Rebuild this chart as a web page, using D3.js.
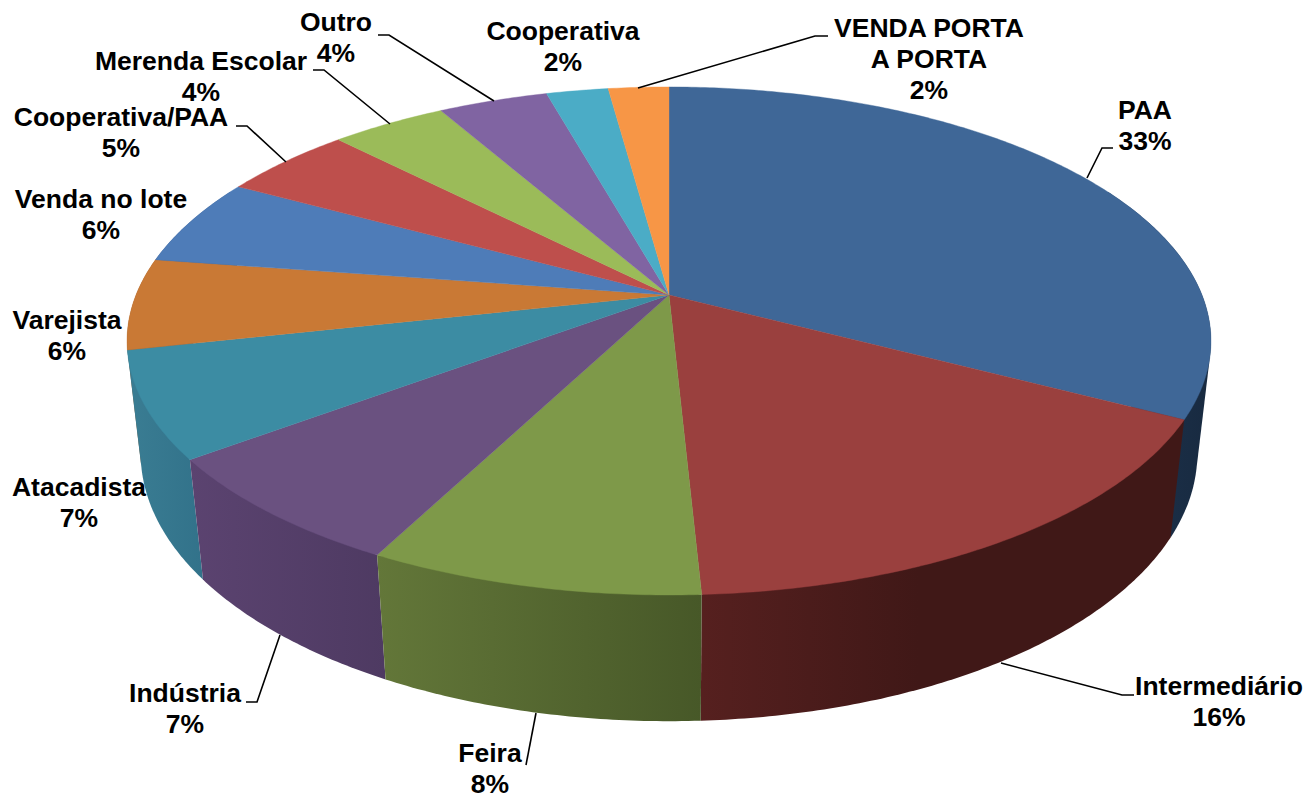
<!DOCTYPE html>
<html><head><meta charset="utf-8">
<script src="https://cdn.jsdelivr.net/npm/d3@7"></script>
<style>html,body{margin:0;padding:0;background:#fff}svg{display:block}
text{font-family:"Liberation Sans",Arial,sans-serif;font-weight:bold;font-size:26.5px;fill:#000;text-anchor:middle}</style>
</head><body><svg id="c" width="1308" height="799"></svg>
<script>
const categories = ["PAA","Intermediário","Feira","Indústria","Atacadista","Varejista","Venda no lote","Cooperativa/PAA","Merenda Escolar","Outro","Cooperativa","VENDA PORTA A PORTA"];
const values = [32.7,16.5,8.4,7.2,6.75,5.8,5.6,4.7,4.1,3.9,2.2,2.15];
const percentLabels = ["33%","16%","8%","7%","7%","6%","6%","5%","4%","4%","2%","2%"];
const labelLines = [["PAA"],["Intermediário"],["Feira"],["Indústria"],["Atacadista"],["Varejista"],["Venda no lote"],["Cooperativa/PAA"],["Merenda Escolar"],["Outro"],["Cooperativa"],["VENDA PORTA","A PORTA"]];
const topColors = ["#3F6797","#9A403E","#7E9949","#6A5180","#3C8CA3","#C97935","#4E7CB8","#BE4F4C","#9BBB59","#8064A2","#4BACC6","#F79646"];
const wallStart = ["#1E3450","#56201F","#637739","#5B4370","#3A7D93","#8a5526","#345680","#843533","#6b8239","#59466f","#337a8c","#b06a30"];
const wallEnd   = ["#182A40","#401817","#475828","#4E3A62","#32728A","#8a5526","#345680","#843533","#6b8239","#59466f","#337a8c","#b06a30"];
const wallEndOffset = [1,0.45,1,1,1,1,1,1,1,1,1,1];
const labelX = [1145,1219,490,185,79,67,101,121,201,336,563,929];
const labelY = [119,695,762,702,496,329,208,126,70,31,40,37];
const lineStep = 31;
const leaders = [
 [[1087,178],[1102,148],[1113,148]],
 [[1001,663],[1122,695],[1134,695]],
 [[536,713],[526,765]],
 [[280,635],[257,702],[246,702]],
 null,null,null,
 [[286,162],[247,126],[236,126]],
 [[390,124],[324,70],[313,70]],
 [[494,101],[389,35],[378,35]],
 null,
 [[638,88],[815,36],[828,36]]
];

const cx=669, cy=295, A=533, B=245.7, K=0.181, M=0.025, C=114;
function project(angle,r,h){
  const u=r*Math.sin(angle), v=-r*Math.cos(angle);
  const w=1-K*v+M*h;
  return [cx+A*u/w, cy+(B*v+C*h)/w];
}
const svg=d3.select("#c");
const defs=svg.append("defs");
const pie=d3.pie().sort(null).value(d=>d);
const arcs=pie(values);
const line=d3.line();
const sample=(a,b)=>{const n=Math.max(2,Math.ceil(Math.abs(b-a)/0.01));return d3.range(n+1).map(i=>a+(b-a)*i/n);};

// walls, drawn far to near; the convex hull gives the outline between top and bottom rims
const LO=1.1, HI=2*Math.PI-1.1;
const wallOrder=arcs.map((d,i)=>i).filter(i=>arcs[i].endAngle>LO&&arcs[i].startAngle<HI)
  .sort((p,q)=>Math.abs(Math.PI-(arcs[q].startAngle+arcs[q].endAngle)/2)-Math.abs(Math.PI-(arcs[p].startAngle+arcs[p].endAngle)/2));
const walls=svg.append("g");
wallOrder.forEach(i=>{
  const a=Math.max(arcs[i].startAngle,LO), b=Math.min(arcs[i].endAngle,HI);
  const ang=sample(a,b);
  const pts=ang.map(t=>project(t,1,0)).concat(ang.map(t=>project(t,1,1)));
  const hull=d3.polygonHull(pts);
  const xs=pts.map(p=>p[0]);
  const g=defs.append("linearGradient").attr("id","w"+i).attr("gradientUnits","userSpaceOnUse")
    .attr("x1",d3.min(xs)).attr("x2",d3.max(xs)).attr("y1",0).attr("y2",0);
  g.append("stop").attr("offset",0).attr("stop-color",wallStart[i]);
  g.append("stop").attr("offset",wallEndOffset[i]).attr("stop-color",wallEnd[i]);
  walls.append("path").attr("d",line(hull)+"Z").attr("fill",`url(#w${i})`);
});
// top faces
svg.append("g").selectAll("path").data(arcs).join("path")
  .attr("d",d=>line([[cx,cy]].concat(sample(d.startAngle,d.endAngle).map(t=>project(t,1,0))))+"Z")
  .attr("fill",(d,i)=>topColors[i]).attr("stroke",(d,i)=>topColors[i]).attr("stroke-width",0.4);
// leaders
svg.append("g").selectAll("path").data(leaders.filter(Boolean)).join("path")
  .attr("d",d=>line(d)).attr("fill","none").attr("stroke","#000").attr("stroke-width",1.6);
// labels
const lg=svg.append("g");
categories.forEach((c,i)=>{
  const rows=labelLines[i].concat([percentLabels[i]]);
  const t=lg.append("text").attr("x",labelX[i]).attr("y",labelY[i]);
  rows.forEach((r,j)=>t.append("tspan").attr("x",labelX[i]).attr("dy",j?lineStep:0).text(r));
});
</script></body></html>
